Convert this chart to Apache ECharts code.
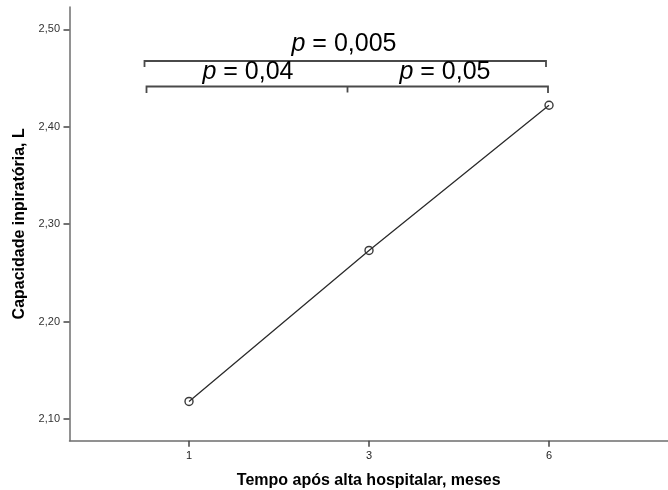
<!DOCTYPE html>
<html>
<head>
<meta charset="utf-8">
<script src="https://cdn.jsdelivr.net/npm/echarts@6/dist/echarts.min.js"></script>
<style>
  html, body { margin: 0; padding: 0; background: #fff; }
  #chart { width: 668px; height: 490px; }
</style>
</head>
<body>
<div id="chart"></div>
<script>
// Follow-up times (months) and mean inspiratory capacity (L)
const months = ['1', '3', '6'];
const capacity = [2.118, 2.273, 2.422];
const yTicks = [2.10, 2.20, 2.30, 2.40, 2.50];

// Pairwise comparison labels
const pLabels = ['0,005', '0,04', '0,05'];

const FONT = '"Liberation Sans", Arial, sans-serif';
const chart = echarts.init(document.getElementById('chart'));

chart.setOption({
  animation: false,
  backgroundColor: '#ffffff',
  grid: {
    left: 69.5, right: 0, top: 7, bottom: 49.3,
    containLabel: false,
    outerBoundsMode: 'none'
  },
  xAxis: {
    type: 'value',
    min: -0.664,
    max: 2.661,
    name: 'Tempo após alta hospitalar, meses',
    nameLocation: 'middle',
    nameGap: 32,
    nameTextStyle: { fontFamily: FONT, fontWeight: 'bold', fontSize: 16, color: '#000' },
    axisLine: { onZero: false, lineStyle: { color: '#6e6e6e', width: 1.5 } },
    axisTick: { customValues: [0, 1, 2], length: 6, lineStyle: { color: '#444', width: 1.5 } },
    axisLabel: {
      customValues: [0, 1, 2],
      formatter: v => months[Math.round(v)],
      fontFamily: FONT, fontSize: 11, color: '#222', margin: 10
    },
    splitLine: { show: false }
  },
  yAxis: {
    type: 'value',
    min: 2.0777,
    max: 2.5229,
    name: 'Capacidade inpiratória, L',
    nameLocation: 'middle',
    nameGap: 42,
    nameTextStyle: { fontFamily: FONT, fontWeight: 'bold', fontSize: 16, color: '#000' },
    axisLine: { show: true, onZero: false, lineStyle: { color: '#6e6e6e', width: 1.5 } },
    axisTick: { show: true, customValues: yTicks, length: 6, lineStyle: { color: '#444', width: 1.5 } },
    axisLabel: {
      customValues: yTicks,
      formatter: v => v.toFixed(2).replace('.', ','),
      fontFamily: FONT, fontSize: 11, color: '#333', margin: 9.5
    },
    splitLine: { show: false }
  },
  series: [{
    type: 'line',
    data: capacity.map((v, i) => [i, v]),
    symbol: 'circle',
    symbolSize: 8,
    lineStyle: { color: '#2b2b2b', width: 1.3 },
    itemStyle: { color: 'rgba(255,255,255,0)', borderColor: '#3a3a3a', borderWidth: 1.4 },
    z: 3
  }]
});

// Comparison brackets drawn above the line
const bracket = (pts) => ({
  type: 'polyline',
  shape: { points: pts },
  style: { stroke: '#4a4a4a', lineWidth: 1.8, fill: null },
  z: 10
});
const pText = (x, y, val) => ({
  type: 'text',
  x, y,
  style: {
    text: '{i|p} = ' + val,
    rich: { i: { fontStyle: 'italic', fontSize: 25, fontFamily: FONT, fill: '#000' } },
    fontSize: 25, fontFamily: FONT, fill: '#000',
    align: 'center', verticalAlign: 'middle'
  },
  z: 10
});

chart.setOption({
  graphic: {
    elements: [
      bracket([[144.5, 67], [144.5, 61], [546, 61], [546, 67]]),
      bracket([[146.5, 93], [146.5, 86.5], [548, 86.5], [548, 93]]),
      bracket([[347.5, 86.5], [347.5, 92.5]]),
      pText(344, 44, pLabels[0]),
      pText(248, 72, pLabels[1]),
      pText(445, 72, pLabels[2])
    ]
  }
});
</script>
</body>
</html>
